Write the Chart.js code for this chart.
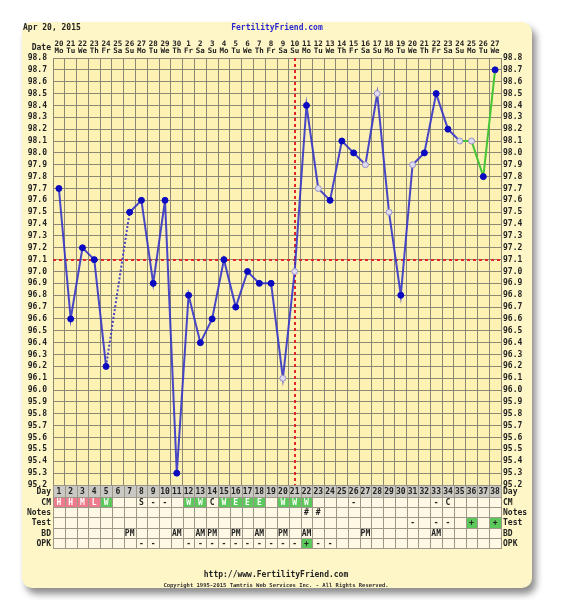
<!DOCTYPE html>
<html>
<head>
<meta charset="utf-8">
<script src="https://cdn.jsdelivr.net/npm/chart.js@4.4.1/dist/chart.umd.min.js"></script>
<style>
  html, body { margin: 0; padding: 0; background: #fff; }
  #wrap { position: relative; width: 572px; height: 600px; overflow: hidden; }
  .card { position: absolute; left: 22px; top: 22px; width: 510px; height: 566px;
          background: #fff6c8; border-radius: 10px; box-shadow: 4px 6px 7px rgba(0,0,0,0.45); }
  canvas { position: absolute; left: 0; top: 0; }
  .txt { position: absolute; font: bold 8px "DejaVu Sans Mono", monospace; color: #222;
         white-space: nowrap; line-height: 8px; }
</style>
</head>
<body>
<div id="wrap">
  <div class="card"></div>
  <canvas id="bbtChart" width="572" height="600"></canvas>
  <div class="txt" style="left:23px;top:24px">Apr 20, 2015</div>
  <div class="txt" style="left:0;width:554px;text-align:center;top:24px;color:#2a2ad0">FertilityFriend.com</div>
  <div class="txt" style="right:521px;top:44px">Date</div>
  <div class="txt" style="left:0;width:552px;text-align:center;top:571px">http://www.FertilityFriend.com</div>
  <div class="txt" style="left:0;width:552px;text-align:center;top:582px;font-size:5.5px;line-height:6px;color:#333">Copyright 1995-2015 Tamtris Web Services Inc. - All Rights Reserved.</div>
</div>
<script>
// calendar labels across the top
const dateNums = ['20','21','22','23','24','25','26','27','28','29','30','1','2','3','4','5','6','7','8','9',
                  '10','11','12','13','14','15','16','17','18','19','20','21','22','23','24','25','26','27'];
const weekdays = ['Mo','Tu','We','Th','Fr','Sa','Su','Mo','Tu','We','Th','Fr','Sa','Su','Mo','Tu','We','Th','Fr','Sa',
                  'Su','Mo','Tu','We','Th','Fr','Sa','Su','Mo','Tu','We','Th','Fr','Sa','Su','Mo','Tu','We'];
const cycleDays = [1,2,3,4,5,6,7,8,9,10,11,12,13,14,15,16,17,18,19,20,
                   21,22,23,24,25,26,27,28,29,30,31,32,33,34,35,36,37,38];

// waking temperatures (F), null = no reading
const temps = [97.7, 96.6, 97.2, 97.1, 96.2, null, 97.5, 97.6, 96.9, 97.6,
               95.3, 96.8, 96.4, 96.6, 97.1, 96.7, 97.0, 96.9, 96.9, 96.1,
               97.0, 98.4, 97.7, 97.6, 98.1, 98.0, 97.9, 98.5, 97.5, 96.8,
               97.9, 98.0, 98.5, 98.2, 98.1, 98.1, 97.8, 98.7];
const openDays = [20, 21, 23, 27, 28, 29, 31, 35, 36];   // hollow points
const greenFrom = 35;                                  // green line from this day on
const coverline = 97.1;
const ovulationDay = 21;

// observation rows
const cmObs    = ['H','H','M','L','W','','','S','-','-','','W','W','C','W','E','E','E','','W',
                  'W','W','','','','-','','','','','','','-','C','','','',''];
const notesObs = ['','','','','','','','','','','','','','','','','','','','',
                  '','#','#','','','','','','','','','','','','','','',''];
const testObs  = ['','','','','','','','','','','','','','','','','','','','',
                  '','','','','','','','','','','-','','-','-','','+','','+'];
const bdObs    = ['','','','','','','PM','','','','AM','','AM','PM','','PM','','AM','','PM',
                  '','AM','','','','','PM','','','','','','AM','','','','',''];
const opkObs   = ['','','','','','','','-','-','','','-','-','-','-','-','-','-','-','-',
                  '-','+','-','-','','','','','','','','','','','','','',''];

const gridColor = '#8d8775';
const textColor = '#222';
const monoFont = '"DejaVu Sans Mono", monospace';

const plotBackdrop = {
  id: 'plotBackdrop',
  beforeDraw(chart) {
    const { ctx, chartArea: a } = chart;
    ctx.save();
    ctx.fillStyle = '#fdf1b4';
    ctx.fillRect(a.left, a.top, a.right - a.left, a.bottom - a.top);
    ctx.restore();
  }
};

const markerLines = {
  id: 'markerLines',
  beforeDatasetsDraw(chart) {
    const { ctx, chartArea: a, scales: { x, y } } = chart;
    const cy = Math.round(y.getPixelForValue(coverline));
    const cx = Math.round(x.getPixelForValue(ovulationDay - 1));
    ctx.save();
    ctx.strokeStyle = '#e0262a';
    ctx.lineWidth = 2;
    ctx.setLineDash([3, 3]);
    ctx.beginPath();
    ctx.moveTo(a.left, cy);
    ctx.lineTo(a.right, cy);
    ctx.moveTo(cx, a.top);
    ctx.lineTo(cx, a.bottom);
    ctx.stroke();
    ctx.restore();
  }
};

function cellFill(rowName, val) {
  if (rowName === 'Day') return '#c9c8c2';
  if (rowName === 'CM' && val && 'HML'.includes(val)) return '#ee7b8c';
  if (rowName === 'CM' && (val === 'W' || val === 'E')) return '#5cc85c';
  if ((rowName === 'Test' || rowName === 'OPK') && val === '+') return '#5cc85c';
  return '#fff8e4';
}

const cycleTable = {
  id: 'cycleTable',
  afterDraw(chart) {
    const { ctx, chartArea: a, scales: { x } } = chart;
    const colW = x.getPixelForValue(1) - x.getPixelForValue(0);
    const rows = [
      { name: 'Day', cells: cycleDays.map(String), h: 12 },
      { name: 'CM', cells: cmObs, h: 10.2 },
      { name: 'Notes', cells: notesObs, h: 10.2 },
      { name: 'Test', cells: testObs, h: 10.2 },
      { name: 'BD', cells: bdObs, h: 10.2 },
      { name: 'OPK', cells: opkObs, h: 10.2 }
    ];
    ctx.save();
    ctx.font = 'bold 8px ' + monoFont;
    ctx.textBaseline = 'middle';
    let top = a.bottom;
    rows.forEach(row => {
      const y0 = Math.round(top), y1 = Math.round(top + row.h);
      row.cells.forEach((val, i) => {
        const cx = x.getPixelForValue(i);
        const l = Math.round(cx - colW / 2), r = Math.round(cx + colW / 2);
        const fill = cellFill(row.name, val);
        ctx.fillStyle = fill;
        ctx.fillRect(l, y0, r - l, y1 - y0);
        ctx.strokeStyle = '#9d978a';
        ctx.lineWidth = 1;
        ctx.strokeRect(l + 0.5, y0 + 0.5, r - l, y1 - y0);
        if (val) {
          const white = row.name === 'CM' && fill !== '#fff8e4';
          ctx.fillStyle = white ? '#fff' : textColor;
          ctx.textAlign = 'center';
          ctx.fillText(val, cx, (y0 + y1) / 2 + 0.5);
        }
      });
      ctx.fillStyle = textColor;
      ctx.textAlign = 'right';
      ctx.fillText(row.name, a.left - 2, (y0 + y1) / 2 + 0.5);
      ctx.textAlign = 'left';
      ctx.fillText(row.name, a.right + 2, (y0 + y1) / 2 + 0.5);
      top += row.h;
    });
    ctx.restore();
  }
};

const yTicks = {
  stepSize: 0.1,
  autoSkip: false,
  color: textColor,
  font: { family: monoFont, size: 8, weight: 'bold', lineHeight: 1 },
  callback: v => v.toFixed(1)
};

new Chart(document.getElementById('bbtChart'), {
  type: 'line',
  data: {
    labels: dateNums.map((d, i) => [d, weekdays[i]]),
    datasets: [{
      label: 'Temperature',
      data: temps,
      spanGaps: true,
      borderWidth: 2,
      borderColor: '#4040c8',
      segment: {
        borderColor: ctx => ctx.p0DataIndex >= greenFrom - 1 ? '#46c636' : 'rgba(52,52,200,0.9)',
        // across a missing reading the line is dotted
        borderDash: ctx => temps[ctx.p0DataIndex] === null ? [2, 2] : undefined
      },
      pointRadius: 3,
      pointBorderWidth: 1,
      pointBackgroundColor: temps.map((t, i) => openDays.includes(i + 1) ? '#dedaf0' : '#0a0ac0'),
      pointBorderColor: temps.map((t, i) => openDays.includes(i + 1) ? '#9a94c8' : '#0a0ac0'),
      tension: 0
    }]
  },
  options: {
    responsive: false,
    animation: false,
    devicePixelRatio: 1,
    layout: { padding: { top: 0, left: 0, right: 0, bottom: 115 } },
    plugins: { legend: { display: false }, tooltip: { enabled: false } },
    scales: {
      x: {
        type: 'category',
        position: 'top',
        offset: true,
        grid: { offset: true, color: gridColor, drawTicks: false },
        border: { color: gridColor },
        ticks: {
          autoSkip: false, maxRotation: 0, minRotation: 0, padding: 4,
          color: textColor,
          font: { family: monoFont, size: 7.5, weight: 'bold', lineHeight: 0.87 }
        },
        afterFit: s => { s.height = 58; }
      },
      y: {
        position: 'left',
        min: 95.2, max: 98.8,
        grid: { color: gridColor, drawTicks: false },
        border: { color: gridColor },
        ticks: Object.assign({ padding: 6 }, yTicks),
        afterFit: s => { s.width = 53; }
      },
      yRight: {
        position: 'right',
        min: 95.2, max: 98.8,
        grid: { drawOnChartArea: false, drawTicks: false },
        border: { display: false },
        ticks: Object.assign({ padding: 2 }, yTicks),
        afterFit: s => { s.width = 71; }
      }
    }
  },
  plugins: [plotBackdrop, markerLines, cycleTable]
});
</script>
</body>
</html>
